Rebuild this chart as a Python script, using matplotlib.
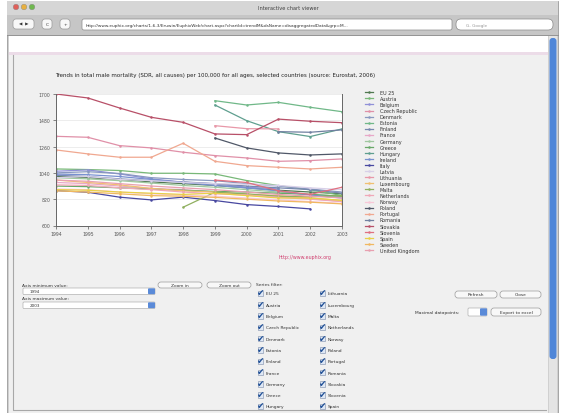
import numpy as np
import matplotlib
matplotlib.use("Agg")
from matplotlib import pyplot as plt
from matplotlib.patches import Rectangle, FancyBboxPatch, Circle

# chart data (male SDR, all causes, per 100,000)
years = [1994, 1995, 1996, 1997, 1998, 1999, 2000, 2001, 2002, 2003]
n = None

countries = ["EU 25", "Austria", "Belgium", "Czech Republic", "Denmark", "Estonia",
             "Finland", "France", "Germany", "Greece", "Hungary", "Ireland", "Italy",
             "Latvia", "Lithuania", "Luxembourg", "Malta", "Netherlands", "Norway",
             "Poland", "Portugal", "Romania", "Slovakia", "Slovenia", "Spain",
             "Sweden", "United Kingdom"]

eu25 = [1010, 1000, 985, 965, 950, 935, 915, 895, 880, 865]
austria = [1073, 1068, 1060, 1037, 1037, 1031, 976, 934, 898, 851]
belgium = [1054, 1065, 1031, 990, 962, 948, 920, 906, n, n]
czech = [1346, 1338, 1268, 1249, 1213, 1185, 1165, 1137, 1143, 1157]
denmark = [1040, 1050, 1035, 1000, 985, 975, 950, 930, 905, 880]
estonia = [n, n, n, n, n, 1644, 1608, 1630, 1589, 1552]
finland = [1020, 1010, 990, 975, 965, 950, 930, 915, 900, 870]
france = [960, 950, 930, 910, 900, 880, 860, 840, 825, 800]
germany = [1000, 990, 975, 955, 935, 920, 900, 880, 860, 845]
greece = [930, 925, 915, 905, 895, 885, 880, 870, 860, 845]
hungary = [n, n, n, n, n, 1608, 1477, 1385, 1344, 1408]
ireland = [1030, 1025, 1010, 985, 960, 935, 915, 890, 855, 830]
italy = [892, 878, 837, 814, 837, 809, 775, 759, 739, n]
latvia = [1000, 1010, 985, 975, 960, 950, 945, 935, 915, 900]
lithuania = [n, n, n, n, n, 1435, 1410, 1408, n, n]
luxembourg = [980, 960, 940, 910, 890, 880, 860, 850, 830, 810]
malta = [n, n, n, n, 753, 878, 865, 845, 840, 850]
netherlands = [940, 935, 915, 900, 880, 865, 855, 835, 820, 800]
norway = [905, 900, 880, 865, 855, 845, 830, 815, 800, 785]
poland = [n, n, n, n, n, 1332, 1249, 1207, 1190, 1199]
portugal = [1232, 1199, 1171, 1171, 1288, 1137, 1101, 1087, 1073, 1087]
romania = [n, n, n, n, n, n, n, 1385, 1380, 1400]
slovakia = [1700, 1667, 1583, 1505, 1463, 1366, 1360, 1490, 1472, 1460]
slovenia = [n, n, n, n, n, 980, 960, 890, 860, 920]
spain = [900, 895, 880, 870, 860, 870, 850, 830, 830, 810]
sweden = [890, 880, 865, 850, 845, 835, 820, 805, 795, 781]
uk = [980, 970, 950, 930, 915, 900, 880, 860, 845, 830]

series = [eu25, austria, belgium, czech, denmark, estonia, finland, france, germany,
          greece, hungary, ireland, italy, latvia, lithuania, luxembourg, malta,
          netherlands, norway, poland, portugal, romania, slovakia, slovenia, spain,
          sweden, uk]

colors = ["#507850", "#78b878", "#9090d8", "#e090a8", "#8898c0", "#70b888",
          "#7888b0", "#e8a8c8", "#a0c8a0", "#68a868", "#5f9f8f", "#7890d0",
          "#4848a0", "#d8d0e8", "#e898a8", "#f0c070", "#90b060", "#f0a8b8",
          "#f8c8d8", "#505868", "#f0a890", "#7080a0", "#b85068", "#e07080",
          "#e8d048", "#f0b860", "#e8a0b0"]

y_ticks = [600, 820, 1040, 1260, 1480, 1700]

title = ("Trends in total male mortality (SDR, all causes) per 100,000 for all ages, "
         "selected countries (source: Eurostat, 2006)")

filter_col1 = ["EU 25", "Austria", "Belgium", "Czech Republic", "Denmark", "Estonia",
               "Finland", "France", "Germany", "Greece", "Hungary"]
filter_col2 = ["Lithuania", "Luxembourg", "Malta", "Netherlands", "Norway", "Poland",
               "Portugal", "Romania", "Slovakia", "Slovenia", "Spain"]

W, H = 562, 414
fig = plt.figure(figsize=(W / 100, H / 100), dpi=100)
fig.patch.set_facecolor("white")

# background canvas in pixel coordinates
bg = fig.add_axes([0, 0, 1, 1])
bg.set_xlim(0, W)
bg.set_ylim(H, 0)
bg.axis("off")


def box(x0, y0, x1, y1, fc, ec="none", lw=0.6, r=0.0, z=1):
    if r > 0:
        p = FancyBboxPatch((x0, y0), x1 - x0, y1 - y0,
                           boxstyle=f"round,pad=0,rounding_size={r}",
                           fc=fc, ec=ec, lw=lw, zorder=z)
    else:
        p = Rectangle((x0, y0), x1 - x0, y1 - y0, fc=fc, ec=ec, lw=lw, zorder=z)
    bg.add_patch(p)


def button(x0, y0, x1, y1, label):
    box(x0, y0, x1, y1, "#f8f8f8", "#9a9a9a", lw=0.5, r=3, z=3)
    bg.text((x0 + x1) / 2, (y0 + y1) / 2, label, fontsize=3.2, color="#333333",
            ha="center", va="center", zorder=4)


# browser window frame
box(7, 2, 558, 414, "#d0d0d0", "#9a9a9a", lw=0.6)
box(7, 2, 558, 16, "#d6d6d6")
box(7, 16, 558, 36, "#c6c6c6")
bg.plot([7, 558], [36, 36], color="#8a8a8a", lw=0.6)
for cx, c in zip([16, 24, 32], ["#e0605a", "#e8b040", "#70b850"]):
    bg.add_patch(Circle((cx, 8), 2.8, fc=c, ec="#888888", lw=0.3, zorder=2))
bg.text(288, 8.5, "Interactive chart viewer", fontsize=3.6, color="#404040",
        ha="center", va="center")

# toolbar
button(13, 20, 34, 30, "◀  ▶")
button(42, 20, 52, 30, "C")
button(60, 20, 70, 30, "+")
box(82, 20, 452, 31, "white", "#8a8a8a", lw=0.5, r=2, z=2)
bg.text(86, 25.7, "http://www.euphix.org/charts/1-6-3/Eruwin/EuphixWeb/chart.aspx"
        "?chartId=trendM&dsName=disaggregatedData&grp=M...",
        fontsize=3.1, color="#333333", va="center", zorder=3)
box(456, 20, 553, 31, "white", "#8a8a8a", lw=0.5, r=5, z=2)
bg.text(466, 25.7, "G- Google", fontsize=3.1, color="#999999", va="center", zorder=3)

# page content
box(9, 37, 548, 414, "#f0f0f0")
box(9, 37, 548, 53, "white")
box(9, 53, 548, 56, "#ecdce8")
bg.plot([13, 13, 546], [56, 411, 411], color="#a8a8a8", lw=0.8, zorder=2)

# scrollbar
box(549, 37, 557, 414, "#e4e4e4")
box(549.5, 39, 556.5, 360, "#4f86d8", r=3, z=2)

# chart title and source
bg.text(55, 75, title, fontsize=4.0, color="#222222", va="center")
bg.text(305, 258, "http://www.euphix.org", fontsize=3.4, color="#d04070",
        ha="center", va="center")

# main chart
ax = fig.add_axes([56 / W, 1 - 226.5 / H, 286 / W, 131.5 / H])
ax.set_facecolor("white")
for name, vals, c in zip(countries, series, colors):
    v = np.array([np.nan if x is None else x for x in vals], dtype=float)
    ax.plot(years, v, color=c, lw=0.9, marker=".", ms=1.6, label=name)
ax.set_xlim(1994, 2003)
ax.set_ylim(600, 1700)
ax.set_xticks(years)
ax.set_yticks(y_ticks)
ax.tick_params(labelsize=3.3, colors="#555555", length=2.5, width=0.5, pad=1.5)
ax.yaxis.grid(True, color="#e6e6e6", lw=0.5)
ax.set_axisbelow(True)
ax.spines["top"].set_visible(False)
for s in ["left", "bottom", "right"]:
    ax.spines[s].set_color("#666666")
    ax.spines[s].set_linewidth(0.7)

leg = fig.legend(loc="upper left", bbox_to_anchor=(365 / W, 1 - 91 / H),
                 frameon=False, fontsize=3.5, handlelength=1.7, handletextpad=1.3,
                 labelspacing=0.22, borderpad=0, borderaxespad=0)
for t in leg.get_texts():
    t.set_color("#333333")

# control panel
bg.text(22, 286, "Axis minimum value:", fontsize=3.2, color="#333333", va="center")
box(23, 289, 155, 295.5, "white", "#a0a0a0", lw=0.4, r=1, z=2)
box(148, 289.3, 155, 295.2, "#5a8ad8", r=1, z=3)
bg.text(30, 292.3, "1994", fontsize=3.0, color="#333333", va="center", zorder=3)
bg.text(22, 299, "Axis maximum value:", fontsize=3.2, color="#333333", va="center")
box(23, 303, 155, 309.5, "white", "#a0a0a0", lw=0.4, r=1, z=2)
box(148, 303.3, 155, 309.2, "#5a8ad8", r=1, z=3)
bg.text(30, 306.3, "2003", fontsize=3.0, color="#333333", va="center", zorder=3)

button(158, 283, 202, 289, "Zoom in")
button(207, 283, 251, 289, "Zoom out")

bg.text(256, 285, "Series filter:", fontsize=3.2, color="#333333", va="center")
for col_x, names in [(258, filter_col1), (320, filter_col2)]:
    for i, name in enumerate(names):
        y = 294.5 + i * 11.3
        box(col_x, y - 2.7, col_x + 5.4, y + 2.7, "#dfe8f5", "#7a8aa8", lw=0.4, z=2)
        bg.text(col_x + 3.0, y - 0.6, "✔", fontsize=6.5, color="#1f4f96",
                ha="center", va="center", zorder=3)
        bg.text(col_x + 7.5, y, name, fontsize=3.2, color="#333333", va="center")

button(455, 292, 497, 299, "Refresh")
button(500, 292, 541, 299, "Close")
bg.text(415, 313, "Maximal datapoints:", fontsize=3.2, color="#333333", va="center")
box(468, 309, 487, 317, "white", "#a0a0a0", lw=0.4, r=1, z=2)
box(480, 309.3, 487, 316.7, "#5a8ad8", r=1, z=3)
button(491, 309, 541, 317, "Export to excel")

fig.savefig("out.png", dpi=100, facecolor=fig.get_facecolor())
